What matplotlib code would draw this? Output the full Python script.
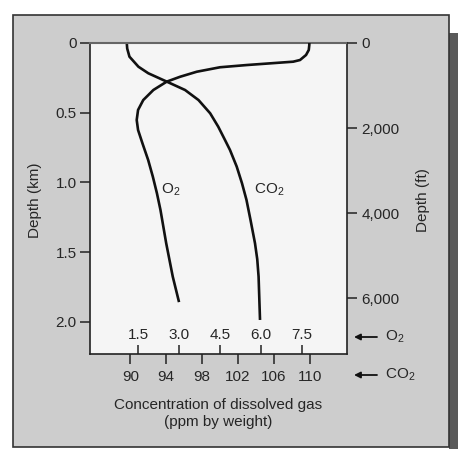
import matplotlib
matplotlib.use("Agg")
import matplotlib.pyplot as plt
from matplotlib.patches import Rectangle

plt.rcParams['font.family'] = ['Liberation Sans', 'DejaVu Sans']
plt.rcParams['mathtext.default'] = 'regular'

# depth profiles (depth in km)
o2_depth = [0.0, 0.014, 0.050, 0.086, 0.122, 0.134, 0.146, 0.158, 0.174, 0.206,
            0.242, 0.277, 0.337, 0.409, 0.480, 0.552, 0.624, 0.719, 0.839,
            0.958, 1.077, 1.197, 1.436, 1.675, 1.858]
o2_ppm = [7.77, 7.77, 7.75, 7.65, 7.43, 7.18, 6.33, 5.48, 4.50, 3.65,
          3.04, 2.55, 2.06, 1.69, 1.50, 1.45, 1.50, 1.66, 1.87,
          2.04, 2.19, 2.32, 2.53, 2.77, 3.00]

co2_depth = [0.0, 0.04, 0.098, 0.170, 0.217, 0.277, 0.337, 0.409, 0.504, 0.600,
             0.695, 0.767, 0.886, 1.006, 1.125, 1.269, 1.436, 1.55, 1.675, 1.986]
co2_ppm = [89.6, 89.65, 89.9, 90.9, 92.0, 94.06, 96.1, 97.6, 98.9, 99.8,
           100.55, 101.11, 101.86, 102.45, 102.95, 103.4, 103.9, 104.15, 104.3, 104.46]

km_ticks = [0, 0.5, 1.0, 1.5, 2.0]
km_labels = ['0', '0.5', '1.0', '1.5', '2.0']
ft_ticks = [0, 2000, 4000, 6000]
ft_labels = ['0', '2,000', '4,000', '6,000']
o2_ticks = [1.5, 3.0, 4.5, 6.0, 7.5]
co2_ticks = [90, 94, 98, 102, 106, 110]

txt = '#262626'
fs = 11
W, H = 458, 449

fig = plt.figure(figsize=(W / 100, H / 100), dpi=100, facecolor='white')

# gray page background with border and shadow
fig.patches.append(Rectangle((449 / W, 0), 9 / W, 1 - 33 / H, transform=fig.transFigure,
                             facecolor='#5a5a5a', edgecolor='none', zorder=0))
fig.patches.append(Rectangle((13 / W, 2 / H), 436 / W, 1 - 17 / H, transform=fig.transFigure,
                             facecolor='#cdcdcd', edgecolor='#333333', lw=1.2, zorder=1))

ax = fig.add_axes([90 / W, 1 - 354 / H, 257 / W, 311 / H], facecolor='#f5f5f5')
ax.set_zorder(2)

ax.plot(co2_ppm, co2_depth, color='#111111', lw=1.9, solid_capstyle='butt',
        solid_joinstyle='round')
ax.set_xlim(85.5, 114.16)
ax.set_ylim(2.23, 0)
ax.set_yticks(km_ticks)
ax.set_yticklabels(km_labels)
ax.set_xticks(co2_ticks)
ax.set_xticklabels([str(t) for t in co2_ticks])
ax.tick_params(axis='y', direction='out', length=7, width=1.1, pad=2.5,
               labelsize=fs, labelcolor=txt, color='#222222')
ax.tick_params(axis='x', direction='out', length=7.2, width=1.1, pad=4,
               labelsize=fs, labelcolor=txt, color='#222222')
for s in ['left', 'right', 'bottom']:
    ax.spines[s].set_linewidth(1.2)
    ax.spines[s].set_color('#222222')
ax.spines['top'].set_color('#666666')
ax.spines['top'].set_linewidth(1.5)

# O2 scale shares the bottom edge, ticks and labels inside
ax2 = ax.twiny()
ax2.plot(o2_ppm, o2_depth, color='#111111', lw=1.9, solid_capstyle='butt',
         solid_joinstyle='round')
ax2.set_xlim(-0.26, 9.15)
ax2.xaxis.set_ticks_position('bottom')
ax2.set_xticks(o2_ticks)
ax2.set_xticklabels(['%.1f' % t for t in o2_ticks])
ax2.tick_params(axis='x', direction='in', length=6.5, width=1.1, pad=-18.5,
                labelsize=fs, labelcolor=txt, color='#222222')
for s in ax2.spines.values():
    s.set_visible(False)

# feet scale on the right
ax3 = ax.twinx()
ax3.set_ylim(2.23 * 3280.84, 0)
ax3.set_yticks(ft_ticks)
ax3.set_yticklabels(ft_labels)
ax3.tick_params(axis='y', direction='out', length=7, width=1.1, pad=3.5,
                labelsize=fs, labelcolor=txt, color='#222222')
for s in ax3.spines.values():
    s.set_visible(False)

ax2.text(2.71, 1.05, 'O$_2$', fontsize=fs, color=txt, ha='center', va='center')
ax.text(105.46, 1.05, 'CO$_2$', fontsize=fs, color=txt, ha='center', va='center')

fig.text(35 / W, 1 - 200 / H, 'Depth (km)', rotation=90, fontsize=fs, color=txt,
         ha='center', va='center', zorder=5)
fig.text(423 / W, 1 - 200 / H, 'Depth (ft)', rotation=90, fontsize=fs, color=txt,
         ha='center', va='center', zorder=5)
fig.text(218 / W, 1 - 405 / H, 'Concentration of dissolved gas', fontsize=fs, color=txt,
         ha='center', va='center', zorder=5)
fig.text(218 / W, 1 - 422 / H, '(ppm by weight)', fontsize=fs, color=txt,
         ha='center', va='center', zorder=5)

for yy, lab in [(337, 'O$_2$'), (375, 'CO$_2$')]:
    fig.text(385 / W, 1 - yy / H, lab, fontsize=fs, color=txt, ha='left', va='center', zorder=5)
    ax.annotate('', xy=(354 / W, 1 - yy / H), xytext=(377 / W, 1 - yy / H),
                xycoords='figure fraction', textcoords='figure fraction',
                arrowprops=dict(arrowstyle='-|>', color='#111111', lw=1.3,
                                mutation_scale=9, shrinkA=0, shrinkB=0),
                annotation_clip=False)

fig.savefig('out.png', dpi=100, facecolor=fig.get_facecolor())
